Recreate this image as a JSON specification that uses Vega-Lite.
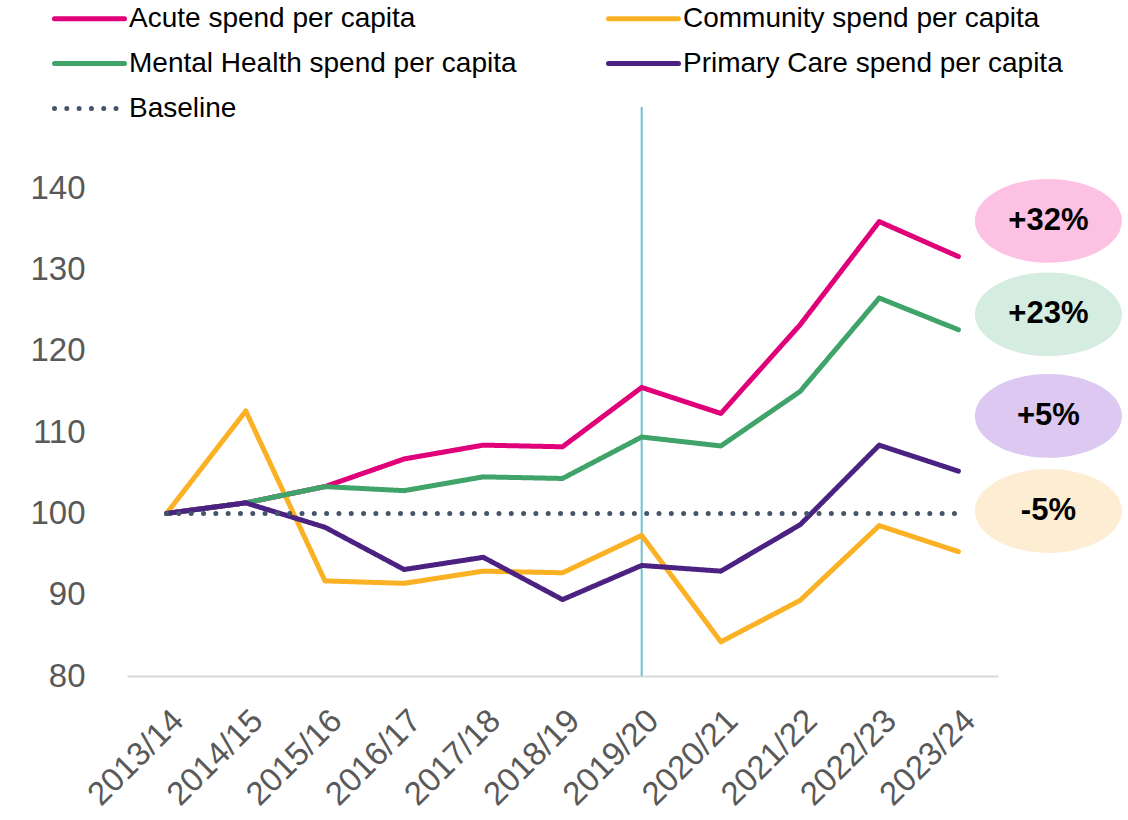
{
  "$schema": "https://vega.github.io/schema/vega-lite/v6.json",
  "autosize": {"type": "none"},
  "padding": {"left": 127, "top": 107, "right": 130, "bottom": 144},
  "width": 871,
  "height": 569,
  "background": "white",
  "config": {"view": {"stroke": null}, "font": "Liberation Sans"},
  "datasets": {
    "series": [
      {"year": "2013/14", "series": "Acute spend per capita", "value": 100},
      {"year": "2014/15", "series": "Acute spend per capita", "value": 101.3},
      {"year": "2015/16", "series": "Acute spend per capita", "value": 103.3},
      {"year": "2016/17", "series": "Acute spend per capita", "value": 106.7},
      {"year": "2017/18", "series": "Acute spend per capita", "value": 108.4},
      {"year": "2018/19", "series": "Acute spend per capita", "value": 108.2},
      {"year": "2019/20", "series": "Acute spend per capita", "value": 115.5},
      {"year": "2020/21", "series": "Acute spend per capita", "value": 112.3},
      {"year": "2021/22", "series": "Acute spend per capita", "value": 123.2},
      {"year": "2022/23", "series": "Acute spend per capita", "value": 135.9},
      {"year": "2023/24", "series": "Acute spend per capita", "value": 131.6},
      {"year": "2013/14", "series": "Community spend per capita", "value": 100},
      {"year": "2014/15", "series": "Community spend per capita", "value": 112.6},
      {"year": "2015/16", "series": "Community spend per capita", "value": 91.7},
      {"year": "2016/17", "series": "Community spend per capita", "value": 91.4},
      {"year": "2017/18", "series": "Community spend per capita", "value": 92.9},
      {"year": "2018/19", "series": "Community spend per capita", "value": 92.7},
      {"year": "2019/20", "series": "Community spend per capita", "value": 97.3},
      {"year": "2020/21", "series": "Community spend per capita", "value": 84.2},
      {"year": "2021/22", "series": "Community spend per capita", "value": 89.3},
      {"year": "2022/23", "series": "Community spend per capita", "value": 98.5},
      {"year": "2023/24", "series": "Community spend per capita", "value": 95.3},
      {"year": "2013/14", "series": "Mental Health spend per capita", "value": 100},
      {"year": "2014/15", "series": "Mental Health spend per capita", "value": 101.3},
      {"year": "2015/16", "series": "Mental Health spend per capita", "value": 103.3},
      {"year": "2016/17", "series": "Mental Health spend per capita", "value": 102.8},
      {"year": "2017/18", "series": "Mental Health spend per capita", "value": 104.5},
      {"year": "2018/19", "series": "Mental Health spend per capita", "value": 104.3},
      {"year": "2019/20", "series": "Mental Health spend per capita", "value": 109.4},
      {"year": "2020/21", "series": "Mental Health spend per capita", "value": 108.3},
      {"year": "2021/22", "series": "Mental Health spend per capita", "value": 115.0},
      {"year": "2022/23", "series": "Mental Health spend per capita", "value": 126.5},
      {"year": "2023/24", "series": "Mental Health spend per capita", "value": 122.6},
      {"year": "2013/14", "series": "Primary Care spend per capita", "value": 100},
      {"year": "2014/15", "series": "Primary Care spend per capita", "value": 101.3},
      {"year": "2015/16", "series": "Primary Care spend per capita", "value": 98.3},
      {"year": "2016/17", "series": "Primary Care spend per capita", "value": 93.1},
      {"year": "2017/18", "series": "Primary Care spend per capita", "value": 94.6},
      {"year": "2018/19", "series": "Primary Care spend per capita", "value": 89.4},
      {"year": "2019/20", "series": "Primary Care spend per capita", "value": 93.6},
      {"year": "2020/21", "series": "Primary Care spend per capita", "value": 92.9},
      {"year": "2021/22", "series": "Primary Care spend per capita", "value": 98.6},
      {"year": "2022/23", "series": "Primary Care spend per capita", "value": 108.4},
      {"year": "2023/24", "series": "Primary Care spend per capita", "value": 105.2},
      {"year": "2013/14", "series": "Baseline", "value": 100},
      {"year": "2014/15", "series": "Baseline", "value": 100},
      {"year": "2015/16", "series": "Baseline", "value": 100},
      {"year": "2016/17", "series": "Baseline", "value": 100},
      {"year": "2017/18", "series": "Baseline", "value": 100},
      {"year": "2018/19", "series": "Baseline", "value": 100},
      {"year": "2019/20", "series": "Baseline", "value": 100},
      {"year": "2020/21", "series": "Baseline", "value": 100},
      {"year": "2021/22", "series": "Baseline", "value": 100},
      {"year": "2022/23", "series": "Baseline", "value": 100},
      {"year": "2023/24", "series": "Baseline", "value": 100}
    ],
    "badges": [
      {"year": "2023/24", "series": "Acute spend per capita", "label": "+32%", "pos": 136.0},
      {"year": "2023/24", "series": "Mental Health spend per capita", "label": "+23%", "pos": 124.5},
      {"year": "2023/24", "series": "Primary Care spend per capita", "label": "+5%", "pos": 112.0},
      {"year": "2023/24", "series": "Community spend per capita", "label": "-5%", "pos": 100.3}
    ],
    "marker": [{"year": "2019/20"}]
  },
  "encoding": {
    "x": {
      "field": "year",
      "type": "ordinal",
      "scale": {"type": "point", "padding": 0.5, "domain": ["2013/14","2014/15","2015/16","2016/17","2017/18","2018/19","2019/20","2020/21","2021/22","2022/23","2023/24"]},
      "axis": {
        "title": null,
        "labelAngle": -45,
        "labelFontSize": 33,
        "labelColor": "#595959",
        "labelPadding": 28,
        "ticks": false,
        "domainColor": "#D9D9D9",
        "domainWidth": 2,
        "grid": false
      }
    }
  },
  "layer": [
    {
      "data": {"name": "marker"},
      "mark": {"type": "rule", "color": "#6CC3CF", "strokeWidth": 2},
      "encoding": {}
    },
    {
      "data": {"name": "series"},
      "mark": {"type": "line", "strokeWidth": 5, "strokeCap": "round", "strokeJoin": "round"},
      "encoding": {
        "y": {
          "field": "value",
          "type": "quantitative",
          "scale": {"domain": [80, 150], "nice": false, "zero": false},
          "axis": {
            "title": null,
            "values": [80, 90, 100, 110, 120, 130, 140],
            "grid": false,
            "domain": false,
            "ticks": false,
            "labelFontSize": 33,
            "labelColor": "#595959",
            "labelPadding": 42
          }
        },
        "color": {
          "field": "series",
          "type": "nominal",
          "scale": {
            "domain": ["Acute spend per capita", "Community spend per capita", "Mental Health spend per capita", "Primary Care spend per capita", "Baseline"],
            "range": ["#E0007A", "#FBB124", "#3FA36A", "#4B2281", "#44546A"]
          },
          "legend": {
            "title": null,
            "orient": "none",
            "direction": "horizontal",
            "legendX": -54,
            "legendY": -105,
            "columns": 2,
            "columnPadding": 81,
            "rowPadding": 14,
            "padding": 0,
            "symbolType": "M -2.5 0 L 2.5 0",
            "symbolSize": 784,
            "symbolStrokeWidth": 5,
            "symbolFillColor": "transparent",
            "labelFontSize": 28,
            "labelColor": "#000000",
            "labelOffset": 23,
            "labelLimit": 600,
            "encoding": {"symbols": {"strokeCap": {"value": "round"}, "fill": {"value": "transparent"}}}
          }
        },
        "strokeDash": {
          "field": "series",
          "type": "nominal",
          "scale": {
            "domain": ["Acute spend per capita", "Community spend per capita", "Mental Health spend per capita", "Primary Care spend per capita", "Baseline"],
            "range": [[1, 0], [1, 0], [1, 0], [1, 0], [0.01, 12.3]]
          }
        }
      }
    },
    {
      "data": {"name": "badges"},
      "mark": {"type": "point", "filled": true, "opacity": 1, "size": 21609, "xOffset": 90, "shape": "M -1 0 A 1 0.57 0 1 1 1 0 A 1 0.57 0 1 1 -1 0 Z"},
      "encoding": {
        "y": {"field": "pos", "type": "quantitative"},
        "fill": {
          "field": "series",
          "type": "nominal",
          "scale": {
            "domain": ["Acute spend per capita", "Community spend per capita", "Mental Health spend per capita", "Primary Care spend per capita"],
            "range": ["#FDC1E3", "#FDEDD3", "#D5EDE0", "#DCC8F0"]
          },
          "legend": null
        }
      }
    },
    {
      "data": {"name": "badges"},
      "mark": {"type": "text", "fontSize": 31, "fontWeight": "bold", "color": "#000000", "xOffset": 90, "align": "center", "baseline": "middle"},
      "encoding": {
        "y": {"field": "pos", "type": "quantitative"},
        "text": {"field": "label"}
      }
    }
  ]
}
